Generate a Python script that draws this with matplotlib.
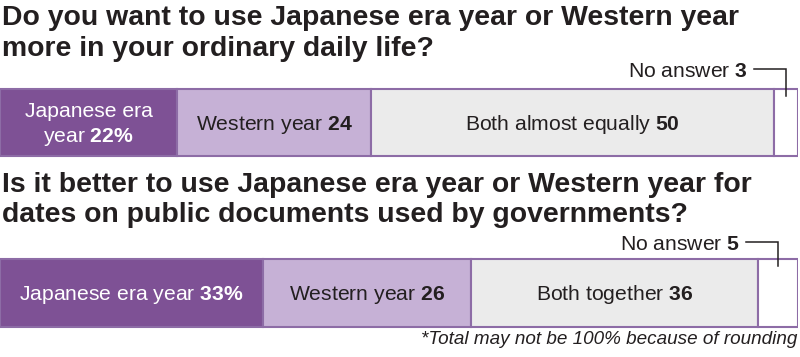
import numpy as np
import matplotlib
matplotlib.use("Agg")
import matplotlib.pyplot as plt

plt.rcParams['font.family'] = ['Liberation Sans', 'DejaVu Sans']
plt.rcParams['mathtext.fontset'] = 'custom'
plt.rcParams['mathtext.rm'] = 'Liberation Sans'
plt.rcParams['mathtext.bf'] = 'Liberation Sans:bold'

# data
titles = [["Do you want to use Japanese era year or Western year",
           "more in your ordinary daily life?"],
          ["Is it better to use Japanese era year or Western year for",
           "dates on public documents used by governments?"]]
labels_q1 = ["Japanese era\nyear", "Western year", "Both almost equally", "No answer"]
values_q1 = [22, 24, 50, 3]
labels_q2 = ["Japanese era year", "Western year", "Both together", "No answer"]
values_q2 = [33, 26, 36, 5]
note = "*Total may not be 100% because of rounding"

colors = ['#7e5195', '#c6b1d6', '#ebebeb', '#ffffff']
text_colors = ['white', '#231f20', '#231f20', '#231f20']
edge = '#8d6ca6'

W, H = 800, 357
fig = plt.figure(figsize=(W / 100, H / 100), dpi=100)
ax = fig.add_axes([0, 0, 798 / W, 1])
ax.set_xlim(0, 100)
ax.set_ylim(H, 0)
ax.axis('off')


def fx(x, y):
    return x / W, 1 - y / H


def dx(px):
    # pixel x -> data x
    return px / 798 * 100


# (labels, values, bar centre, title baseline, callout baseline, callout right edge)
rows = [(labels_q1, values_q1, 122.5, 25, 77, 748),
        (labels_q2, values_q2, 293, 192, 250, 740)]
for i, (labs, vals, yc, title_base, ty, text_end) in enumerate(rows):
    for k, line in enumerate(titles[i]):
        fig.text(*fx(2, title_base + 30.5 * k), line, fontsize=20.4, fontweight='bold',
                 color='#231f20', va='baseline')
    total = sum(vals)
    widths = np.array(vals) / total * 100
    lefts = np.concatenate([[0], np.cumsum(widths)[:-1]])
    ax.barh(yc, widths, left=lefts, height=67.5, color=colors, edgecolor=edge,
            linewidth=1.5)
    for j in range(3):
        num = str(vals[j]) + (r'\%' if j == 0 else '')
        parts = labs[j].split('\n')
        parts[-1] = parts[-1] + r' $\mathbf{' + num + '}$'
        n = len(parts)
        for k, p in enumerate(parts):
            ax.text(lefts[j] + widths[j] / 2, yc + 7 + (k - (n - 1) / 2) * 25, p,
                    ha='center', va='baseline', fontsize=15.2, color=text_colors[j])
    # no answer callout
    na_x = lefts[3] + widths[3] / 2
    fig.text(*fx(text_end, ty), labs[3] + r' $\mathbf{' + str(vals[3]) + '}$',
             ha='right', va='baseline', fontsize=15.2, color='#231f20')
    ax.plot([dx(text_end + 6), na_x, na_x], [ty - 8, ty - 8, yc - 27],
            color='#231f20', lw=1.1, solid_joinstyle='miter')

fig.text(*fx(797, 344), note, ha='right', va='baseline', fontsize=13.6,
         style='italic', color='#231f20')

fig.savefig('out.png', dpi=100)
